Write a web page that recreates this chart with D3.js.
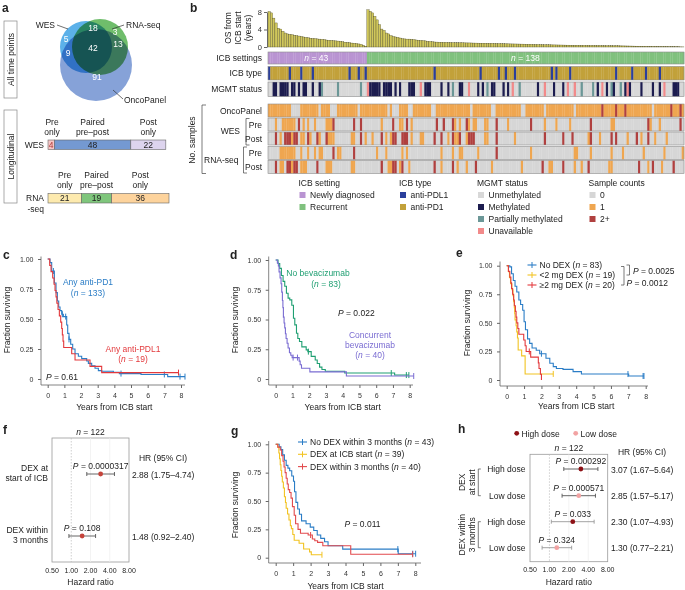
<!DOCTYPE html>
<html>
<head>
<meta charset="utf-8">
<script src="https://cdn.jsdelivr.net/npm/d3@7"></script>
<style>
  body { margin: 0; background: #fff; }
  svg { display: block; font-family: "Liberation Sans", Arial, sans-serif; }
</style>
</head>
<body>
<div id="fig"></div>
<script>
// ---------------- data ----------------

// a. Venn (WES only, WES+RNA, RNA only, WES+Onco, all three, RNA+Onco, Onco only)
const vennCounts = [5, 18, 3, 9, 42, 13, 91];
const vennNames = ["WES", "RNA-seq", "OncoPanel"];

// a. longitudinal
const longGroups = [["Pre", "only"], ["Paired", "pre–post"], ["Post", "only"]];
const wesLong = [4, 48, 22];
const rnaLong = [21, 19, 36];

// b. overall survival from ICB start (years), sorted within group
const osNewly = [8.1, 7.8, 6.6, 5.5, 4.3, 4.1, 3.6, 3.2, 3.0, 2.9, 2.8, 2.7, 2.6, 2.5, 2.4, 2.3, 2.2, 2.1, 2.0, 1.95,
  1.9, 1.85, 1.8, 1.75, 1.7, 1.6, 1.55, 1.5, 1.45, 1.4, 1.35, 1.3, 1.2, 1.1, 1.05, 1.0, 0.9, 0.85, 0.8, 0.7,
  0.6, 0.4, 0.15];
const osRecurrent = [8.5, 8.15, 7.8, 7.0, 6.2, 5.1, 4.1, 3.8, 3.2, 3.0, 2.6, 2.4, 2.3, 2.2, 2.05, 1.9, 1.85, 1.8,
  1.8, 1.75, 1.7, 1.6, 1.55, 1.5, 1.45, 1.4, 1.3, 1.25, 1.2, 1.15, 1.12, 1.1, 1.08,
  1.05, 1.04, 1.03, 1.02, 1.0, 0.99, 0.98, 0.97, 0.96, 0.95, 0.94, 0.93, 0.92, 0.9,
  0.89, 0.88, 0.87, 0.86, 0.85, 0.84, 0.83, 0.82, 0.8, 0.79, 0.78, 0.76, 0.75, 0.73, 0.72,
  0.71, 0.7, 0.69, 0.68, 0.67, 0.66, 0.65, 0.63, 0.62, 0.6, 0.59, 0.57, 0.56, 0.54,
  0.53, 0.52, 0.51, 0.5, 0.49, 0.48, 0.47, 0.46, 0.45, 0.44, 0.43, 0.42, 0.41, 0.4, 0.39,
  0.38, 0.38, 0.37, 0.37, 0.36, 0.36, 0.35, 0.35, 0.34, 0.33, 0.33, 0.32, 0.31, 0.3,
  0.3, 0.29, 0.28, 0.28, 0.27, 0.26, 0.25, 0.24, 0.23, 0.22, 0.21, 0.2, 0.19, 0.18, 0.16,
  0.15, 0.15, 0.14, 0.14, 0.13, 0.12, 0.12, 0.11, 0.1, 0.1, 0.09, 0.08, 0.08, 0.07, 0.06, 0.05, 0.04, 0.03];
const osTicks = [0, 4, 8];

// b. annotation tracks (patient indices, left to right)
const pdl1Idx = [0, 9, 14, 19, 35, 39, 42, 72, 92, 100, 103, 107, 123, 125, 131, 151, 158, 164, 170];
const mgmtMeth = [2, 3, 5, 6, 7, 8, 10, 11, 13, 15, 16, 19, 22, 44, 45, 46, 47, 48, 50, 51, 52, 53, 55, 57, 61, 62, 63,
  68, 69, 70, 75, 78, 83, 84, 91, 93, 97, 98, 102, 104, 117, 124, 128, 143, 147, 150, 155, 157, 162, 167, 170, 176, 177, 178];
const mgmtPartial = [23, 30, 40, 80, 95, 109, 136, 141, 149, 153];
const mgmtNA = [43, 66, 87, 106, 120, 130, 133, 145, 156, 172];
const oncoZero = [10, 11, 12, 13, 22, 27, 28, 29, 39, 52, 54, 55, 56, 61, 62, 71, 72, 88, 97, 98, 110, 111, 120, 133, 167];
const oncoTwo = [145, 151, 155, 175, 179];
const wesPreOne = [3, 6, 7, 8, 9, 10, 11, 15, 17, 20, 25, 26, 27, 49, 57, 58, 62, 81, 83, 87, 89, 90, 94, 95, 104, 120, 125, 131, 149, 150, 166, 170];
const wesPreTwo = [13, 28, 37, 40, 54, 60, 73, 76, 80, 86, 99, 114, 140, 165, 179];
const wesPostOne = [5, 10, 14, 15, 18, 22, 26, 27, 28, 36, 37, 42, 45, 51, 53, 62, 66, 67, 78, 81, 82, 86, 94, 95, 107, 139, 144, 156, 162, 168, 173];
const wesPostTwo = [3, 7, 8, 9, 11, 12, 17, 21, 25, 40, 49, 54, 55, 58, 59, 60, 72, 75, 80, 83, 87, 88, 89, 99, 120, 128, 132, 140, 149, 151, 160, 165];
const rnaPreOne = [5, 6, 7, 8, 9, 10, 11, 14, 17, 20, 22, 23, 30, 31, 47, 51, 58, 60, 75, 80, 83, 84, 91, 114, 133, 134, 140, 149, 154, 163, 172, 180];
const rnaPreTwo = [28, 37, 99];
const rnaPostOne = [5, 6, 10, 14, 15, 16, 25, 26, 27, 36, 37, 52, 53, 57, 61, 75, 82, 86, 97, 110, 122, 123, 133, 136, 148, 149, 165, 171];
const rnaPostTwo = [3, 8, 9, 11, 12, 21, 49, 54, 55, 58, 72, 80, 90, 119, 128, 139, 161, 167, 176];

// c. Kaplan-Meier [years, fraction surviving]
const cPD1 = [[0, 1], [0.14, 0.97], [0.24, 0.9], [0.4, 0.8], [0.5, 0.72], [0.58, 0.65], [0.66, 0.6], [0.74, 0.57], [0.84, 0.54],
  [0.94, 0.52], [1.14, 0.45], [1.2, 0.38], [1.28, 0.33], [1.38, 0.29], [1.5, 0.25], [1.64, 0.21], [1.84, 0.19], [2.04, 0.17],
  [2.34, 0.15], [2.44, 0.13], [2.64, 0.11], [2.84, 0.09], [3.04, 0.07], [3.24, 0.065], [3.94, 0.055], [4.3, 0.045],
  [5.6, 0.038], [7.2, 0.02]];
const cPD1Cens = [0.34, 0.88, 1.08, 1.28, 4.4, 7.0, 7.94, 8.24];
const cPDL1 = [[0, 1], [0.12, 0.947], [0.2, 0.895], [0.3, 0.842], [0.38, 0.789], [0.44, 0.737], [0.5, 0.684], [0.55, 0.632],
  [0.62, 0.579], [0.7, 0.526], [0.78, 0.474], [0.84, 0.421], [0.88, 0.368], [0.92, 0.316], [0.96, 0.263], [1.44, 0.211],
  [1.64, 0.158], [2.54, 0.105], [3.24, 0.053]];
const cPDL1Cens = [7.85];

// d.
const dNoBev = [[0, 1], [0.14, 0.97], [0.24, 0.93], [0.34, 0.87], [0.44, 0.82], [0.54, 0.78], [0.64, 0.72], [0.74, 0.68],
  [0.84, 0.665], [0.96, 0.62], [1.06, 0.51], [1.14, 0.455], [1.24, 0.385], [1.32, 0.34], [1.42, 0.315], [1.56, 0.27],
  [1.82, 0.245], [1.92, 0.23], [2.12, 0.19], [2.36, 0.16], [2.48, 0.13], [2.62, 0.1], [2.76, 0.08], [2.96, 0.065],
  [4.12, 0.05], [7.1, 0.033]];
const dNoBevCens = [1.95, 6.9, 7.8, 7.95];
const dBev = [[0, 1], [0.1, 0.975], [0.16, 0.95], [0.2, 0.9], [0.26, 0.85], [0.32, 0.8], [0.36, 0.73], [0.4, 0.66],
  [0.43, 0.6], [0.46, 0.52], [0.5, 0.47], [0.54, 0.43], [0.58, 0.38], [0.62, 0.34], [0.68, 0.3], [0.74, 0.26],
  [0.82, 0.22], [0.9, 0.2], [0.98, 0.18], [1.4, 0.15], [1.46, 0.12], [1.54, 0.09], [2.04, 0.06], [4.22, 0.025]];
const dBevCens = [1.04, 1.3, 8.24];

// e.
const eNoDex = [[0, 1], [0.18, 0.99], [0.28, 0.93], [0.38, 0.87], [0.48, 0.82], [0.58, 0.77], [0.7, 0.7], [0.8, 0.66],
  [0.92, 0.61], [1.0, 0.51], [1.08, 0.44], [1.2, 0.36], [1.32, 0.32], [1.46, 0.28], [1.7, 0.26], [1.9, 0.23], [2.26, 0.19],
  [2.48, 0.146], [2.68, 0.117], [2.86, 0.1], [3.24, 0.093], [3.82, 0.073], [4.3, 0.052], [7.02, 0.035]];
const eNoDexCens = [2.0, 6.98, 7.85, 7.9];
const eLow = [[0, 1], [0.1, 0.947], [0.16, 0.895], [0.22, 0.842], [0.3, 0.789], [0.36, 0.737], [0.4, 0.684], [0.44, 0.632],
  [0.46, 0.579], [0.48, 0.526], [0.54, 0.474], [0.58, 0.421], [0.62, 0.368], [0.66, 0.263], [0.86, 0.211], [1.06, 0.053]];
const eLowCens = [2.68];
const eHigh = [[0, 1], [0.1, 0.95], [0.18, 0.9], [0.24, 0.85], [0.28, 0.8], [0.34, 0.75], [0.4, 0.7], [0.44, 0.65], [0.5, 0.6],
  [0.54, 0.55], [0.58, 0.5], [0.64, 0.45], [0.7, 0.4], [0.98, 0.35], [1.06, 0.3], [1.12, 0.25], [1.38, 0.2], [1.82, 0.15],
  [1.86, 0.1], [1.94, 0.05], [2.0, 0]];
const eHighCens = [1.3];

// g.
const gNoDex = [[0, 1], [0.2, 0.977], [0.3, 0.953], [0.4, 0.907], [0.5, 0.86], [0.6, 0.814], [0.7, 0.79], [0.8, 0.767],
  [0.92, 0.72], [1.02, 0.674], [1.08, 0.581], [1.16, 0.488], [1.26, 0.43], [1.36, 0.383], [1.48, 0.325], [1.74, 0.3],
  [1.98, 0.27], [2.18, 0.24], [2.38, 0.2], [2.58, 0.17], [2.8, 0.14], [3.0, 0.105], [3.84, 0.076], [7.02, 0.035]];
const gNoDexCens = [7.0, 7.85, 8.02];
const gStart = [[0, 1], [0.12, 0.974], [0.18, 0.923], [0.22, 0.872], [0.26, 0.82], [0.3, 0.769], [0.34, 0.718], [0.38, 0.667],
  [0.44, 0.615], [0.5, 0.538], [0.56, 0.487], [0.6, 0.436], [0.68, 0.385], [0.76, 0.333], [0.84, 0.282], [0.9, 0.256],
  [0.98, 0.205], [1.06, 0.154], [1.34, 0.128], [1.6, 0.077], [1.94, 0.051], [2.04, 0.026]];
const gStartCens = [2.65];
const gWithin = [[0, 1], [0.12, 0.975], [0.26, 0.95], [0.34, 0.9], [0.42, 0.85], [0.48, 0.8], [0.54, 0.75], [0.6, 0.7],
  [0.66, 0.65], [0.72, 0.6], [0.8, 0.575], [0.88, 0.525], [0.96, 0.45], [1.06, 0.375], [1.14, 0.3], [1.28, 0.25],
  [1.42, 0.215], [1.86, 0.2], [2.1, 0.165], [2.24, 0.15], [2.4, 0.135], [2.7, 0.105], [4.3, 0.03]];
const gWithinCens = [2.0, 7.85];

// f. Cox model
const fLabels = [["DEX at", "start of ICB"], ["DEX within", "3 months"]];
const fHR = [2.88, 1.48];
const fLo = [1.75, 0.92];
const fHi = [4.74, 2.40];
const fP = ["0.0000317", "0.108"];

// h. Cox model by dose
const hGroups = [["DEX", "at start"], ["DEX within", "3 months"]];
const hDose = ["High dose", "Low dose", "High dose", "Low dose"];
const hHR = [3.07, 2.85, 2.30, 1.30];
const hLo = [1.67, 1.57, 1.07, 0.77];
const hHi = [5.64, 5.17, 4.93, 2.21];
const hP = ["0.000292", "0.000571", "0.033", "0.324"];

const hrTicks = [0.5, 1, 2, 4, 8];
const yearTicks = [0, 1, 2, 3, 4, 5, 6, 7, 8];
const survTicks = [0, 0.25, 0.5, 0.75, 1];

// ---------------- drawing ----------------
const FS = 8.5, TFS = 7, INK = "#222", AX = "#666";
const BLUE = "#2b7dc6", RED = "#e3393c", YEL = "#f2c322", GRN = "#1f9f72", PUR = "#7a6cd2", RED2 = "#e24a4d";

const svg = d3.select("#fig").append("svg").attr("width", 685).attr("height", 590);

// text with *italic* segments
function txt(g, x, y, s, o = {}) {
  const t = g.append("text").attr("x", x).attr("y", y)
    .attr("font-size", o.size || FS).attr("fill", o.fill || INK)
    .attr("text-anchor", o.anchor || "start");
  if (o.weight) t.attr("font-weight", o.weight);
  if (o.rotate) t.attr("transform", `rotate(-90,${x},${y})`);
  s.split("*").forEach((part, i) => {
    if (part) t.append("tspan").attr("font-style", i % 2 ? "italic" : null).text(part);
  });
  return t;
}
function letter(x, y, s) { txt(svg, x, y, s, { size: 12, weight: "bold" }); }

// ---------- a ----------
letter(2, 12, "a");
svg.append("rect").attr("x", 4).attr("y", 21).attr("width", 13).attr("height", 77)
  .attr("fill", "none").attr("stroke", "#888").attr("stroke-width", 0.7);
txt(svg, 13.5, 59.5, "All time points", { rotate: true, anchor: "middle" });
svg.append("rect").attr("x", 4).attr("y", 110).attr("width", 13).attr("height", 93)
  .attr("fill", "none").attr("stroke", "#888").attr("stroke-width", 0.7);
txt(svg, 13.5, 156.5, "Longitudinal", { rotate: true, anchor: "middle" });

const vennG = svg.append("g").style("isolation", "isolate");
const vennCircles = [
  { cx: 96, cy: 65, r: 36, fill: "#86a2d8" },
  { cx: 86, cy: 47, r: 26, fill: "#5cb1e9" },
  { cx: 100, cy: 47, r: 28, fill: "#6fbd6b" }
];
vennG.selectAll("circle").data(vennCircles).join("circle")
  .attr("cx", d => d.cx).attr("cy", d => d.cy).attr("r", d => d.r)
  .attr("fill", d => d.fill).style("mix-blend-mode", "multiply");
const vennPos = [[66, 42], [93, 31], [115, 35], [68, 56], [93, 51], [118, 47], [97, 80]];
vennCounts.forEach((c, i) => txt(svg, vennPos[i][0], vennPos[i][1], String(c), { anchor: "middle", fill: "#fff" }));
const leader = (x1, y1, x2, y2) => svg.append("line").attr("x1", x1).attr("y1", y1).attr("x2", x2).attr("y2", y2)
  .attr("stroke", "#333").attr("stroke-width", 0.7);
txt(svg, 55, 28, vennNames[0], { anchor: "end" }); leader(57, 25, 68, 29);
txt(svg, 126, 28, vennNames[1]); leader(112, 29, 124, 25);
txt(svg, 124, 103, vennNames[2]); leader(113, 90, 123, 99);

// stacked bars
const xLong = d3.scaleLinear().domain([0, d3.sum(rnaLong)]).range([48, 169]);
function longBar(counts, colors, y, textCols, labelY, name) {
  let acc = 0;
  counts.forEach((c, i) => {
    const x0 = xLong(acc), x1 = xLong(acc + c);
    svg.append("rect").attr("x", x0).attr("y", y).attr("width", x1 - x0).attr("height", 9.5)
      .attr("fill", colors[i]).attr("stroke", "#666").attr("stroke-width", 0.6);
    txt(svg, (x0 + x1) / 2, y + 7.8, String(c), { anchor: "middle", fill: textCols[i] });
    const cx = i === 0 && c < 10 ? x0 + 4 : (x0 + x1) / 2;
    txt(svg, cx, labelY, longGroups[i][0], { anchor: "middle" });
    txt(svg, cx, labelY + 10, longGroups[i][1], { anchor: "middle" });
    acc += c;
  });
  name.forEach((n, i) => txt(svg, 44, y + 7.5 + i * 11, n, { anchor: "end" }));
}
longBar(wesLong, ["#f6c6c6", "#7499d2", "#ddd4ee"], 140, ["#b03a3a", INK, INK], 125, ["WES"]);
longBar(rnaLong, ["#fdeaae", "#7fc67c", "#fdd39c"], 193.5, [INK, INK, INK], 178, ["RNA", "-seq"]);

// ---------- b ----------
letter(190, 12, "b");
const N = osNewly.length + osRecurrent.length;
const os = osNewly.concat(osRecurrent);
const xb = d3.scaleBand().domain(d3.range(N)).range([268, 684]);
const yOS = d3.scaleLinear().domain([0, 8]).range([47, 12]);
svg.append("g").selectAll("rect").data(os).join("rect")
  .attr("x", (d, i) => xb(i)).attr("width", xb.bandwidth())
  .attr("y", d => yOS(d)).attr("height", d => yOS(0) - yOS(d))
  .attr("fill", "#d0c75c").attr("stroke", "#4d4a26").attr("stroke-width", 0.35);
const osAx = svg.append("g").attr("transform", "translate(267,0)")
  .call(d3.axisLeft(yOS).tickValues(osTicks).tickSize(3).tickSizeOuter(0).tickPadding(2));
osAx.attr("font-size", TFS + 0.5).attr("font-family", null);
osAx.selectAll("path,line").attr("stroke", AX);
osAx.selectAll("text").attr("fill", "#333");
["OS from", "ICB start", "(years)"].forEach((s, i) => txt(svg, 231 + i * 10, 28, s, { rotate: true, anchor: "middle" }));

function track(y, h, colorFn, label) {
  const g = svg.append("g");
  g.selectAll("rect").data(d3.range(N)).join("rect")
    .attr("x", i => xb(i)).attr("y", y).attr("width", xb.bandwidth() + 0.25).attr("height", h)
    .attr("fill", colorFn);
  g.append("rect").attr("x", 268).attr("y", y).attr("width", 416).attr("height", h)
    .attr("fill", "none").attr("stroke", "#8c8c8c").attr("stroke-width", 0.6);
  if (label) txt(svg, 262, y + h / 2 + 3, label, { anchor: "end" });
}
const SETTING = { "Newly diagnosed": "#b994d2", "Recurrent": "#80c17e" };
const ICBC = { "anti-PDL1": "#2b3f9c", "anti-PD1": "#c2a13a" };
const MGMTC = { "Unmethylated": "#d8d8d8", "Methylated": "#1c1c4f", "Partially methylated": "#6b9797", "Unavailable": "#f28a8a" };
const CNT = { "0": "#d6d6d6", "1": "#efa650", "2+": "#b0403f" };

track(52, 12, i => i < osNewly.length ? SETTING["Newly diagnosed"] : SETTING["Recurrent"], "ICB settings");
txt(svg, xb(Math.floor(osNewly.length / 2)), 61, "*n* = " + osNewly.length, { anchor: "middle", fill: "#fff" });
txt(svg, xb(osNewly.length + Math.floor(osRecurrent.length / 2)), 61, "*n* = " + osRecurrent.length, { anchor: "middle", fill: "#fff" });
const pdl1 = new Set(pdl1Idx);
track(66.5, 13.5, i => pdl1.has(i) ? ICBC["anti-PDL1"] : ICBC["anti-PD1"], "ICB type");
const mM = new Set(mgmtMeth), mP = new Set(mgmtPartial), mN = new Set(mgmtNA);
track(82, 14.5, i => mM.has(i) ? MGMTC.Methylated : mP.has(i) ? MGMTC["Partially methylated"] : mN.has(i) ? MGMTC.Unavailable : MGMTC.Unmethylated, "MGMT status");
function countTrack(y, one, two, label, defaultCnt) {
  const s1 = new Set(one), s2 = new Set(two);
  track(y, 13, i => s2.has(i) ? CNT["2+"] : s1.has(i) ? CNT["1"] : CNT[defaultCnt], label);
}
{
  const zero = new Set(oncoZero), two = new Set(oncoTwo);
  track(104, 13, i => two.has(i) ? CNT["2+"] : zero.has(i) ? CNT["0"] : CNT["1"], "OncoPanel");
}
countTrack(118, wesPreOne, wesPreTwo, "Pre", "0");
countTrack(132, wesPostOne, wesPostTwo, "Post", "0");
countTrack(146.5, rnaPreOne, rnaPreTwo, "Pre", "0");
countTrack(160.5, rnaPostOne, rnaPostTwo, "Post", "0");

const bracket = (x, y1, y2, dx) => svg.append("path")
  .attr("d", `M${x + dx},${y1}H${x}V${y2}H${x + dx}`).attr("fill", "none").attr("stroke", "#444").attr("stroke-width", 0.7);
txt(svg, 240, 134, "WES", { anchor: "end" });
bracket(246, 118.5, 145, 3.5);
txt(svg, 238.5, 163, "RNA-seq", { anchor: "end" });
bracket(243.5, 147, 173, 3.5);
bracket(202, 105, 173.5, 4);
txt(svg, 195, 140, "No. samples", { rotate: true, anchor: "middle" });

// legend b
const legendCols = [
  { x: 298.5, title: "ICB setting", items: Object.entries(SETTING) },
  { x: 399, title: "ICB type", items: Object.entries(ICBC) },
  { x: 477, title: "MGMT status", items: Object.entries(MGMTC) },
  { x: 588.5, title: "Sample counts", items: Object.entries(CNT) }
];
legendCols.forEach(col => {
  txt(svg, col.x, 186, col.title);
  col.items.forEach(([name, c], i) => {
    const yy = 195 + i * 12;
    svg.append("rect").attr("x", col.x + 1).attr("y", yy - 3).attr("width", 6).attr("height", 6).attr("fill", c);
    txt(svg, col.x + 11.5, yy + 3, name);
  });
});

// ---------- KM panels ----------
function surv(steps, t) { let s = 1; steps.forEach(d => { if (d[0] <= t) s = d[1]; }); return s; }
function kmPanel(p) {
  const x = d3.scaleLinear().domain([0, 8]).range(p.xr);
  const y = d3.scaleLinear().domain([0, 1]).range(p.yr);
  const g = svg.append("g");
  const yAx = g.append("g").attr("transform", `translate(${p.ax},0)`)
    .call(d3.axisLeft(y).tickValues(survTicks).tickFormat(d => d === 0 ? "0" : d3.format(".2f")(d)).tickSize(3).tickPadding(4.5));
  const xAx = g.append("g").attr("transform", `translate(0,${p.ay})`)
    .call(d3.axisBottom(x).tickValues(yearTicks).tickSize(3).tickPadding(5));
  [yAx, xAx].forEach(a => {
    a.attr("font-size", TFS).attr("font-family", null);
    a.select(".domain").remove();
    a.selectAll(".tick line").attr("stroke", AX);
    a.selectAll("text").attr("fill", "#333");
  });
  g.append("path").attr("d", `M${p.ax},${p.ayTop}V${p.ay}H${p.axEnd}`)
    .attr("fill", "none").attr("stroke", AX).attr("stroke-width", 0.8);
  txt(svg, p.ylab[0], p.ylab[1], "Fraction surviving", { rotate: true, anchor: "middle" });
  txt(svg, (p.xr[0] + p.xr[1]) / 2, p.xlabY, "Years from ICB start", { anchor: "middle" });
  const line = d3.line().curve(d3.curveStepAfter).x(d => x(d[0])).y(d => y(d[1]));
  p.curves.forEach(c => {
    const last = c.steps[c.steps.length - 1][1];
    const end = d3.max(c.cens.concat([c.steps[c.steps.length - 1][0]]));
    g.append("path").datum(c.steps.concat([[end, last]])).attr("d", line)
      .attr("fill", "none").attr("stroke", c.color).attr("stroke-width", 1.1);
    g.selectAll(null).data(c.cens).join("line")
      .attr("x1", t => x(t)).attr("x2", t => x(t))
      .attr("y1", t => y(surv(c.steps, t)) - 3).attr("y2", t => y(surv(c.steps, t)) + 3)
      .attr("stroke", c.color).attr("stroke-width", 1);
  });
  return { x, y };
}
function kmLegend(x, y0, dy, items) {
  items.forEach(([label, color], i) => {
    const yy = y0 + i * dy;
    svg.append("line").attr("x1", x).attr("x2", x + 9).attr("y1", yy).attr("y2", yy).attr("stroke", color).attr("stroke-width", 1.1);
    svg.append("line").attr("x1", x + 4.5).attr("x2", x + 4.5).attr("y1", yy - 3).attr("y2", yy + 3).attr("stroke", color).attr("stroke-width", 1);
    txt(svg, x + 12, yy + 3, label);
  });
}

// c
letter(3, 259, "c");
kmPanel({ xr: [47.7, 181], yr: [379, 259], ax: 41, ay: 385, ayTop: 256.5, axEnd: 185, ylab: [10, 320], xlabY: 410,
  curves: [{ steps: cPD1, cens: cPD1Cens, color: BLUE }, { steps: cPDL1, cens: cPDL1Cens, color: RED }] });
txt(svg, 88, 285, "Any anti-PD1", { anchor: "middle", fill: BLUE });
txt(svg, 88, 296, "(*n* = 133)", { anchor: "middle", fill: BLUE });
txt(svg, 133, 352, "Any anti-PDL1", { anchor: "middle", fill: RED });
txt(svg, 133, 361.5, "(*n* = 19)", { anchor: "middle", fill: RED });
txt(svg, 46, 380, "*P* = 0.61");

// d
letter(230, 259, "d");
kmPanel({ xr: [275.7, 409.7], yr: [379, 260], ax: 268.7, ay: 385, ayTop: 256.5, axEnd: 413, ylab: [238, 320], xlabY: 410,
  curves: [{ steps: dNoBev, cens: dNoBevCens, color: GRN }, { steps: dBev, cens: dBevCens, color: PUR }] });
txt(svg, 318, 276, "No bevacizumab", { anchor: "middle", fill: GRN });
txt(svg, 326, 286.5, "(*n* = 83)", { anchor: "middle", fill: GRN });
txt(svg, 338, 316, "*P* = 0.022");
txt(svg, 370, 338, "Concurrent", { anchor: "middle", fill: PUR });
txt(svg, 370, 348, "bevacizumab", { anchor: "middle", fill: PUR });
txt(svg, 370, 358, "(*n* = 40)", { anchor: "middle", fill: PUR });

// e
letter(456, 257, "e");
kmPanel({ xr: [506.7, 645.7], yr: [380, 265.7], ax: 500, ay: 386, ayTop: 261.5, axEnd: 648, ylab: [469.5, 323], xlabY: 409,
  curves: [{ steps: eNoDex, cens: eNoDexCens, color: BLUE }, { steps: eLow, cens: eLowCens, color: YEL }, { steps: eHigh, cens: eHighCens, color: RED }] });
kmLegend(527.5, 265, 10, [["No DEX (*n* = 83)", BLUE], ["<2 mg DEX (*n* = 19)", YEL], ["≥2 mg DEX (*n* = 20)", RED]]);
bracket(629.5, 265, 275, -3);
bracket(624, 266.5, 285, -3);
txt(svg, 633, 274, "*P* = 0.0025");
txt(svg, 626.5, 285.5, "*P* = 0.0012");

// g
letter(231, 435, "g");
kmPanel({ xr: [275.7, 415.3], yr: [557.7, 444.3], ax: 268.7, ay: 563, ayTop: 441, axEnd: 421, ylab: [238, 505], xlabY: 589,
  curves: [{ steps: gNoDex, cens: gNoDexCens, color: BLUE }, { steps: gStart, cens: gStartCens, color: YEL }, { steps: gWithin, cens: gWithinCens, color: RED2 }] });
kmLegend(298, 442, 12.3, [["No DEX within 3 months (*n* = 43)", BLUE], ["DEX at ICB start (*n* = 39)", YEL], ["DEX within 3 months (*n* = 40)", RED2]]);
txt(svg, 344.5, 526.5, "*P* = 0.011");

// ---------- forest panels ----------
function forest(p) {
  const x = d3.scaleLog().base(2).domain([hrTicks[0], hrTicks[hrTicks.length - 1]]).range(p.xr);
  const g = svg.append("g");
  g.append("rect").attr("x", p.xr[0]).attr("y", p.yTop).attr("width", p.xr[1] - p.xr[0]).attr("height", p.yBot - p.yTop)
    .attr("fill", "none").attr("stroke", "#9a9a9a").attr("stroke-width", 0.8);
  hrTicks.slice(1, -1).forEach(t => g.append("line").attr("x1", x(t)).attr("x2", x(t)).attr("y1", p.yTop).attr("y2", p.yBot)
    .attr("stroke", t === 1 ? "#bbb" : "#eee").attr("stroke-width", 0.7).attr("stroke-dasharray", t === 1 ? "1.5,1.5" : null));
  hrTicks.forEach(t => txt(svg, x(t), p.yBot + 10.5, d3.format(".2f")(t), { anchor: "middle", size: TFS }));
  txt(svg, (p.xr[0] + p.xr[1]) / 2, p.yBot + 23, "Hazard ratio", { anchor: "middle" });
  txt(svg, (p.xr[0] + p.xr[1]) / 2, p.yTop - 3, "*n* = 122", { anchor: "middle" });
  txt(svg, p.hrX + 31, p.hrHeadY, "HR (95% CI)", { anchor: "middle" });
  p.hr.forEach((hr, i) => {
    const yy = p.rows[i];
    g.append("path").attr("d", `M${x(p.lo[i])},${yy - 2}V${yy + 2}M${x(p.lo[i])},${yy}H${x(p.hi[i])}M${x(p.hi[i])},${yy - 2}V${yy + 2}`)
      .attr("fill", "none").attr("stroke", p.barCol[i]).attr("stroke-width", 0.9);
    g.append("circle").attr("cx", x(hr)).attr("cy", yy).attr("r", 2.4).attr("fill", p.ptCol[i]);
    txt(svg, x(hr), yy - 5, "*P* = " + p.p[i], { anchor: "middle" });
    txt(svg, p.hrX, yy + 3.5, `${d3.format(".2f")(hr)} (${d3.format(".2f")(p.lo[i])}–${d3.format(".2f")(p.hi[i])})`);
  });
  return x;
}

// f
letter(3, 434, "f");
forest({ xr: [52, 129], yTop: 438, yBot: 562, rows: [474, 536], hr: fHR, lo: fLo, hi: fHi, p: fP,
  hrX: 132, hrHeadY: 461, barCol: ["#555", "#555"], ptCol: ["#c5443b", "#c5443b"] });
fLabels.forEach((lines, i) => lines.forEach((s, j) =>
  txt(svg, 48, [474, 536][i] - 3 + j * 10, s, { anchor: "end" })));

// h
letter(458, 433, "h");
const HIGH = "#8e1116", LOW = "#f2a3a3";
svg.append("circle").attr("cx", 516.7).attr("cy", 433.3).attr("r", 2.4).attr("fill", HIGH);
txt(svg, 521.5, 436.5, "High dose");
svg.append("circle").attr("cx", 575.7).attr("cy", 433.3).attr("r", 2.4).attr("fill", LOW);
txt(svg, 580.5, 436.5, "Low dose");
const hRows = [469, 495.7, 521.7, 547.7];
forest({ xr: [530, 607.7], yTop: 454.3, yBot: 561.7, rows: hRows, hr: hHR, lo: hLo, hi: hHi, p: hP,
  hrX: 611, hrHeadY: 455, barCol: ["#555", "#555", "#999", "#999"], ptCol: hDose.map(d => d === "High dose" ? HIGH : LOW) });
hDose.forEach((d, i) => txt(svg, 525.5, hRows[i] + 3, d, { anchor: "end" }));
hGroups.forEach((lines, k) => {
  const y1 = hRows[k * 2], y2 = hRows[k * 2 + 1];
  bracket(478.3, y1, y2, 2.5);
  lines.forEach((s, j) => txt(svg, 464.7 + j * 10, (y1 + y2) / 2, s, { rotate: true, anchor: "middle" }));
});
</script>
</body>
</html>
